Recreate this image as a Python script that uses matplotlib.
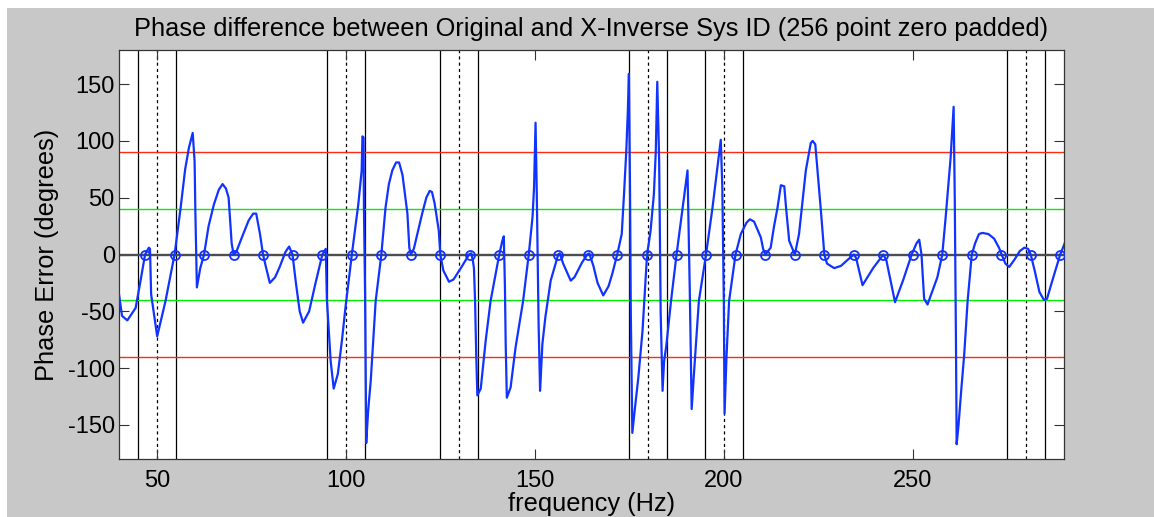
import matplotlib
matplotlib.use("Agg")
import matplotlib.pyplot as plt
from matplotlib.patches import Rectangle

plt.rcParams['font.family'] = ['Liberation Sans', 'DejaVu Sans']
plt.rcParams['font.size'] = 16
plt.rcParams['axes.unicode_minus'] = False

# phase error curve (Hz, degrees)
freq = [40.0, 40.8, 42.2, 44.4, 45.7, 46.9, 47.9, 48.2, 48.5, 50.1, 52.3, 54.7,
        56.3, 57.5, 58.5, 59.5, 60.0, 60.2, 60.6, 61.5, 62.5, 63.7, 65.1, 66.4,
        67.4, 68.3, 69.0, 69.8, 70.3, 71.0, 72.5, 74.3, 75.5, 76.3, 77.3, 78.1,
        78.8, 79.9, 81.3, 82.5, 84.0, 85.0, 85.9, 86.8, 87.8, 88.7, 90.3, 92.0,
        93.8, 94.7, 95.0, 96.0, 96.8, 97.9, 99.0, 99.9, 101.6, 103.3, 104.2,
        104.4, 104.7, 104.8, 105.1, 105.4, 105.9, 106.6, 107.9, 109.4, 110.5,
        111.4, 112.3, 113.3, 114.1, 115.0, 116.3, 116.8, 117.2, 118.0, 120.2,
        121.3, 122.2, 122.8, 123.5, 124.6, 125.0, 125.8, 127.3, 128.5, 130.8,
        132.6, 133.2, 133.6, 133.9, 134.2, 134.5, 134.8, 135.7, 137.0, 138.3,
        140.6, 141.4, 141.8, 142.1, 142.3, 142.6, 143.6, 144.9, 146.9, 148.4,
        149.4, 149.8, 150.2, 150.5, 151.0, 151.4, 152.0, 152.8, 154.2, 156.2,
        156.6, 157.5, 159.5, 160.5, 162.5, 163.9, 164.4, 165.5, 166.6, 168.1,
        169.5, 170.5, 171.8, 173.0, 173.6, 174.2, 174.6, 174.9, 175.2, 175.4,
        175.8, 176.5, 177.4, 178.5, 179.7, 180.6, 181.5, 182.0, 182.4, 182.9,
        183.3, 183.8, 184.2, 184.8, 186.0, 187.5, 188.9, 190.4, 190.6, 191.0,
        191.5, 192.0, 193.4, 195.3, 197.0, 198.6, 199.2, 199.6, 200.0, 200.2,
        200.7, 201.4, 203.1, 204.5, 206.0, 206.9, 208.0, 209.8, 210.4, 211.0,
        212.4, 213.3, 214.2, 215.1, 216.0, 216.5, 217.3, 218.8, 219.9, 221.7,
        223.0, 223.5, 224.2, 225.7, 226.6, 227.3, 229.2, 231.0, 233.0, 234.4,
        235.0, 236.7, 239.5, 242.2, 243.0, 245.3, 247.5, 249.7, 251.0, 251.7,
        252.3, 253.0, 253.9, 256.5, 257.8, 258.7, 260.0, 260.8, 261.1, 261.4,
        261.6, 262.1, 262.8, 263.6, 264.5, 265.6, 266.5, 267.5, 268.4, 270.0,
        271.5, 272.8, 273.5, 274.5, 275.5, 277.0, 278.3, 279.5, 280.5, 281.2,
        282.3, 283.5, 284.7, 285.5, 287.0, 289.0, 290.2]
phase_err = [-35, -54, -58, -47, -23, 0, 6, 5, -35, -72, -41, 0,
             41, 75, 94, 107, 82, 38, -29, -12, 0, 25, 44, 57,
             62, 58, 50, 10, 0, 2, 15, 30, 36, 36, 18, 0,
             -10, -25, -20, -11, 2, 7, 0, -25, -50, -60, -50, -25,
             0, 5, -40, -94, -118, -105, -75, -47, 0, 44, 74,
             104, 103, 40, -34, -166, -138, -111, -41, 0, 41,
             62, 74, 81, 81, 70, 36, 6, 0, 5, 36,
             50, 56, 55, 45, 21, 0, -14, -24, -22, -10,
             0, 1, -5, -12, -41, -88, -124, -118, -76, -41,
             0, 12, 16, -29, -79, -126, -117, -82, -41, 0,
             33, 59, 116, 59, -60, -120, -79, -55, -23, 0,
             1, -8, -23, -20, -7, 0, 1, -10, -25, -36,
             -28, -17, 0, 18, 53, 91, 125, 159, 53, -52,
             -157, -135, -108, -67, 0, 20, 53, 90, 152, 82,
             -52, -120, -94, -80, -42, 0, 36, 74, 40, -32,
             -136, -110, -41, 0, 41, 85, 101, 60, -40, -140,
             -91, -41, 0, 18, 28, 31, 29, 15, 5, 0,
             6, 25, 41, 61, 60, 40, 12, 0, 18, 74,
             98, 100, 97, 38, 0, -8, -12, -10, -4, 0,
             -3, -27, -12, 0, -5, -42, -22, 0, 10, 13,
             0, -39, -44, -20, 0, 33, 85, 130, 50, -70,
             -167, -150, -120, -88, -41, 0, 10, 18, 19, 18,
             14, 6, 0, -8, -11, -4, 3, 6, 5, 0,
             -15, -33, -40, -39, -22, 0, 10]

# FFT bin frequencies marked on the zero line
bin_freq = [46.875, 54.688, 62.5, 70.313, 78.125, 85.938, 93.75, 101.563,
            109.375, 117.188, 125.0, 132.813, 140.625, 148.438, 156.25, 164.063,
            171.875, 179.688, 187.5, 195.313, 203.125, 210.938, 218.75, 226.563,
            234.375, 242.188, 250.0, 257.813, 265.625, 273.438, 281.25, 289.063]
bin_zero = [0] * len(bin_freq)

# harmonic centres and +/- 5 Hz bands
centres = [50, 100, 130, 180, 200, 280]
band_edges = [45, 55, 95, 105, 125, 135, 175, 185, 195, 205, 275, 285]

limit_hi = 90
limit_lo = 40

fig = plt.figure(figsize=(11.54, 5.17), dpi=100, facecolor='white')
fig.patches.append(Rectangle((7 / 1154, 0), 1, 1 - 8 / 517, transform=fig.transFigure,
                             facecolor='#c8c8c8', edgecolor='none', zorder=-10))
ax = fig.add_axes([119 / 1154, 58 / 517, 945 / 1154, 409 / 517])
ax.set_facecolor('white')

for f in band_edges:
    ax.axvline(f, color='black', lw=0.9, zorder=1)
for f in centres:
    ax.axvline(f, color='black', lw=0.9, ls=(0, (2.5, 2.5)), zorder=1)

ax.axhline(limit_hi, color='#ff2a10', lw=1.0, zorder=1)
ax.axhline(-limit_hi, color='#ff2a10', lw=1.0, zorder=1)
ax.axhline(limit_lo, color='#00ee00', lw=1.0, zorder=1)
ax.axhline(-limit_lo, color='#00ee00', lw=1.0, zorder=1)
ax.axhline(0, color='#4d4d4d', lw=1.7, zorder=2)

ax.plot(freq, phase_err, color='#1133ff', lw=1.6, zorder=3)
ax.plot(bin_freq, bin_zero, 'o', mfc='none', mec='#1133ff', mew=1.3, ms=6.5, zorder=4)

ax.set_xlim(40, 290)
ax.set_ylim(-180, 180)
ax.set_xticks([50, 100, 150, 200, 250])
ax.set_yticks([-150, -100, -50, 0, 50, 100, 150])
ax.tick_params(direction='in', length=7, width=0.8, top=True, right=True,
               color='#333333', labelsize=17)
ax.tick_params(axis='x', pad=8)
ax.tick_params(axis='y', pad=3)
for s in ax.spines.values():
    s.set_color('#333333')
    s.set_linewidth(0.9)

ax.set_title('Phase difference between Original and X-Inverse Sys ID (256 point zero padded)',
             fontsize=18.3, pad=10)
ax.set_xlabel('frequency (Hz)', fontsize=18.3, labelpad=0)
ax.set_ylabel('Phase Error (degrees)', fontsize=18.3, labelpad=6)

fig.savefig('out.png', dpi=100, facecolor=fig.get_facecolor())
